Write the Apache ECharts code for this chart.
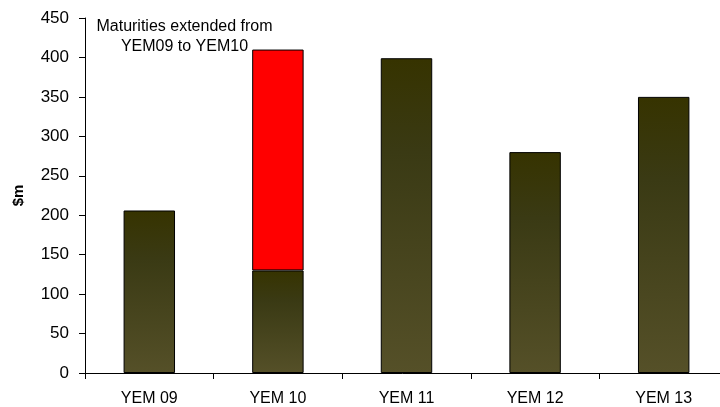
<!DOCTYPE html>
<html>
<head>
<meta charset="utf-8">
<script src="https://cdn.jsdelivr.net/npm/echarts@6/dist/echarts.min.js"></script>
<style>
  html, body { margin: 0; padding: 0; background: #fff; }
  #chart { width: 720px; height: 407px; }
</style>
</head>
<body>
<div id="chart"></div>
<script>
const categories = ['YEM 09', 'YEM 10', 'YEM 11', 'YEM 12', 'YEM 13']
const maturities = [206, 130, 399, 280, 350]
const extended = [null, 280, null, null, null]
const noteLines = ['Maturities extended from', 'YEM09 to YEM10']

const font = 'Liberation Sans, Arial, sans-serif'

const olive = new echarts.graphic.LinearGradient(0, 0, 0, 1, [
  { offset: 0, color: '#363300' },
  { offset: 0.3, color: '#3a3a14' },
  { offset: 1, color: '#555028' }
])

const chart = echarts.init(document.getElementById('chart'))

chart.setOption({
  animation: false,
  backgroundColor: '#fff',
  grid: { left: 85, top: 18, width: 643, height: 355, containLabel: false, outerBoundsMode: 'none' },
  xAxis: {
    type: 'category',
    data: categories,
    axisLine: { lineStyle: { color: '#000', width: 1 } },
    axisTick: { show: true, length: 6, lineStyle: { color: '#000' } },
    axisLabel: { color: '#000', fontFamily: font, fontSize: 16, margin: 18 }
  },
  yAxis: {
    type: 'value',
    min: 0,
    max: 450,
    interval: 50,
    name: '$m',
    nameLocation: 'middle',
    nameGap: 59,
    nameTextStyle: { color: '#000', fontFamily: font, fontSize: 15, fontWeight: 'bold' },
    axisLine: { show: true, lineStyle: { color: '#000', width: 1 } },
    axisTick: { show: true, length: 6, lineStyle: { color: '#000' } },
    axisLabel: { color: '#000', fontFamily: font, fontSize: 17, margin: 16 },
    splitLine: { show: false }
  },
  series: [
    {
      type: 'bar',
      stack: 'total',
      data: maturities,
      barWidth: '40%',
      itemStyle: { color: olive, borderColor: '#000', borderWidth: 1 }
    },
    {
      type: 'bar',
      stack: 'total',
      data: extended,
      barWidth: '40%',
      itemStyle: { color: '#ff0000', borderColor: '#000', borderWidth: 1 }
    }
  ],
  graphic: [
    {
      type: 'text',
      x: 184.5,
      y: 37,
      style: {
        text: noteLines.join('\n'),
        align: 'center',
        verticalAlign: 'middle',
        fill: '#000',
        font: '16px ' + font,
        lineHeight: 20
      }
    }
  ]
})
</script>
</body>
</html>
